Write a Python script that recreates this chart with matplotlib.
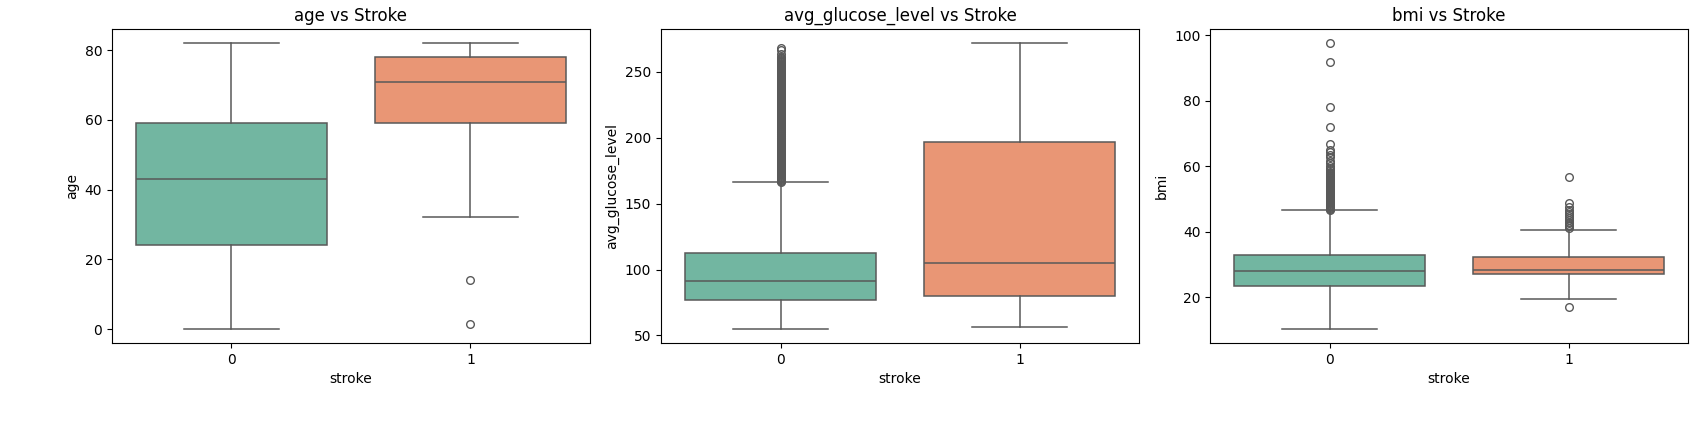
import matplotlib
matplotlib.use("Agg")
import matplotlib.pyplot as plt

# box statistics, one entry per stroke group (0, 1)
groups = ["0", "1"]

age_whislo = [0.08, 32.0]
age_q1 = [24.0, 59.0]
age_med = [43.0, 71.0]
age_q3 = [59.0, 78.0]
age_whishi = [82.0, 82.0]
age_fliers = [[], [14.0, 1.32]]

glucose_whislo = [55.12, 56.11]
glucose_q1 = [77.1, 79.8]
glucose_med = [91.5, 105.2]
glucose_q3 = [112.9, 196.7]
glucose_whishi = [166.3, 271.7]
glucose_fliers = [
    [166.5, 167.2, 168.0, 168.7, 169.5, 170.2, 171.0, 171.7, 172.5, 173.2,
     174.0, 174.7, 175.5, 176.2, 177.0, 177.7, 178.5, 179.2, 180.0, 180.7,
     181.5, 182.2, 183.0, 183.7, 184.5, 185.2, 186.0, 186.7, 187.5, 188.2,
     189.0, 189.7, 190.5, 191.2, 192.0, 192.7, 193.5, 194.2, 195.0, 195.7,
     196.5, 197.2, 198.0, 198.7, 199.5, 200.2, 201.0, 201.7, 202.5, 203.2,
     204.0, 204.7, 205.5, 206.2, 207.0, 207.7, 208.5, 209.2, 210.0, 210.7,
     211.5, 212.2, 213.0, 213.7, 214.5, 215.2, 216.0, 216.7, 217.5, 218.2,
     219.0, 219.7, 220.5, 221.2, 222.0, 222.7, 223.5, 224.2, 225.0, 225.7,
     226.5, 227.2, 228.0, 228.7, 229.5, 230.2, 231.0, 231.7, 232.5, 233.2,
     234.0, 234.7, 235.5, 236.2, 237.0, 237.7, 238.5, 239.2, 240.0, 240.7,
     241.5, 242.2, 243.0, 243.7, 244.5, 245.2, 246.0, 246.7, 247.5, 248.2,
     249.0, 249.7, 250.5, 251.2, 252.0, 252.7, 253.5, 254.2, 255.0, 255.7,
     256.5, 257.2, 258.0, 258.7, 259.5, 260.2, 261.0, 263.4, 266.6, 267.8],
    [],
]

bmi_whislo = [10.3, 19.4]
bmi_q1 = [23.4, 27.0]
bmi_med = [28.1, 28.2]
bmi_q3 = [32.7, 32.3]
bmi_whishi = [46.5, 40.5]
bmi_fliers = [
    [46.6, 46.9, 47.2, 47.5, 47.8, 48.1, 48.4, 48.7, 49.0, 49.3, 49.6, 49.9,
     50.2, 50.5, 50.8, 51.1, 51.4, 51.7, 52.0, 52.3, 52.6, 52.9, 53.2, 53.5,
     53.8, 54.1, 54.4, 54.7, 55.0, 55.3, 55.6, 55.9, 56.2, 56.5, 56.8, 57.1,
     57.4, 57.7, 58.0, 58.3, 58.7, 59.4, 60.2, 60.9, 61.6, 62.8, 63.3, 64.4,
     64.9, 66.8, 71.9, 78.0, 92.0, 97.6],
    [56.6, 48.9, 47.5, 46.5, 45.9, 45.5, 44.9, 44.3, 43.6, 43.0, 42.5, 42.0,
     41.6, 41.1, 16.9],
]

features = ["age", "avg_glucose_level", "bmi"]
stats_lists = {
    "age": (age_whislo, age_q1, age_med, age_q3, age_whishi, age_fliers),
    "avg_glucose_level": (glucose_whislo, glucose_q1, glucose_med, glucose_q3,
                          glucose_whishi, glucose_fliers),
    "bmi": (bmi_whislo, bmi_q1, bmi_med, bmi_q3, bmi_whishi, bmi_fliers),
}

box_colors = ["#72b6a1", "#e99675"]   # Set2, desaturated like seaborn
line_color = "#595959"

fig = plt.figure(figsize=(16.91, 4.38), dpi=100)
lefts = [0.0662, 0.3909, 0.7156]

for left, feat in zip(lefts, features):
    ax = fig.add_axes([left, 0.2169, 0.2827, 0.7169])
    lo, q1, med, q3, hi, fl = stats_lists[feat]
    stats = []
    for i in range(len(groups)):
        stats.append({"whislo": lo[i], "q1": q1[i], "med": med[i],
                      "q3": q3[i], "whishi": hi[i], "fliers": fl[i]})
    bp = ax.bxp(stats, positions=[0, 1], widths=0.8, capwidths=0.4,
                patch_artist=True, manage_ticks=False,
                boxprops=dict(edgecolor=line_color, linewidth=1.1),
                whiskerprops=dict(color=line_color, linewidth=1.1),
                capprops=dict(color=line_color, linewidth=1.1),
                medianprops=dict(color=line_color, linewidth=1.1),
                flierprops=dict(marker="o", markerfacecolor="none",
                                markeredgecolor=line_color, markersize=5.5,
                                markeredgewidth=1.0))
    for patch, c in zip(bp["boxes"], box_colors):
        patch.set_facecolor(c)
    ax.set_xlim(-0.5, 1.5)
    ax.set_xticks([0, 1])
    ax.set_xticklabels(groups)
    ax.set_xlabel("stroke")
    ax.set_ylabel(feat)
    ax.set_title(feat + " vs Stroke")

fig.savefig("out.png", dpi=100)
